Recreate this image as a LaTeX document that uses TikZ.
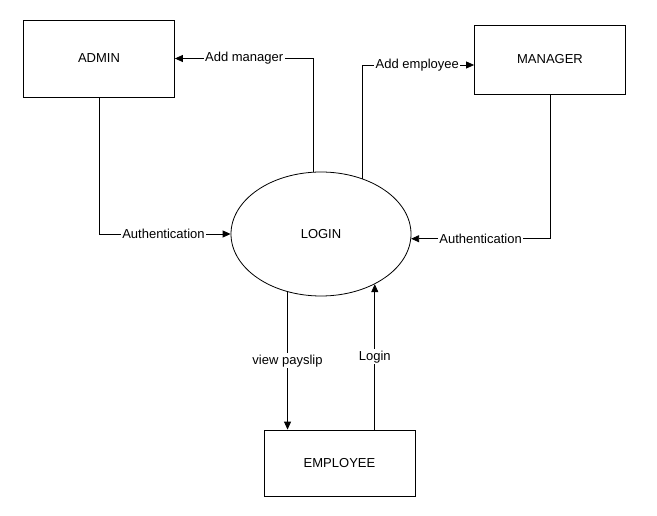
\documentclass[tikz,border=0pt]{standalone}
\usepackage{fontspec}
\setmainfont{Liberation Sans}
\usepackage{tikz}
\usetikzlibrary{arrows.meta,positioning,calc,shapes.geometric}
\definecolor{Ink}{HTML}{000000}
\tikzset{
  entity/.style={draw=Ink,line width=0.8pt,fill=white,minimum width=151pt,inner sep=0pt,font=\fontsize{13}{15}\selectfont},
  process/.style={ellipse,draw=Ink,line width=0.8pt,minimum width=180pt,minimum height=124pt,inner sep=0pt,font=\fontsize{13}{15}\selectfont},
  flowline/.style={line width=0.8pt,draw=Ink},
  arrow/.style={flowline,-{Triangle[length=8pt,width=7pt]}},
  tag/.style={fill=white,inner sep=1.5pt,font=\fontsize{13}{15}\selectfont}
}
\begin{document}
\begin{tikzpicture}[x=1pt,y=-1pt]
  \useasboundingbox (0,0) rectangle (657,516);
  \node[entity,minimum height=77pt] (admin) at (99,58.5) {ADMIN};
  \node[entity,minimum height=69pt] (manager) at (550,59.5) {MANAGER};
  \node[entity,minimum height=66pt] (employee) at (339.5,463) {EMPLOYEE};
  \node[process] (login) at (321,234) {LOGIN};
  \draw[arrow] (login.97) |- node[tag,pos=0.75]{Add manager} (admin.east);
  \draw[arrow] (login.53) |- node[tag,pos=0.745]{Add employee} ([yshift=-5.5pt]manager.west);
  \draw[arrow] (admin.south) |- node[tag,pos=0.745]{Authentication} (login.west);
  \draw[arrow] (manager.south) |- node[tag,pos=0.75]{Authentication} (login.-3);
  \draw[arrow] (login.-120) -- node[tag]{view payslip} (login.-120 |- employee.north);
  \draw[arrow] (employee.north -| login.-43) -- node[tag]{Login} (login.-43);
\end{tikzpicture}
\end{document}
